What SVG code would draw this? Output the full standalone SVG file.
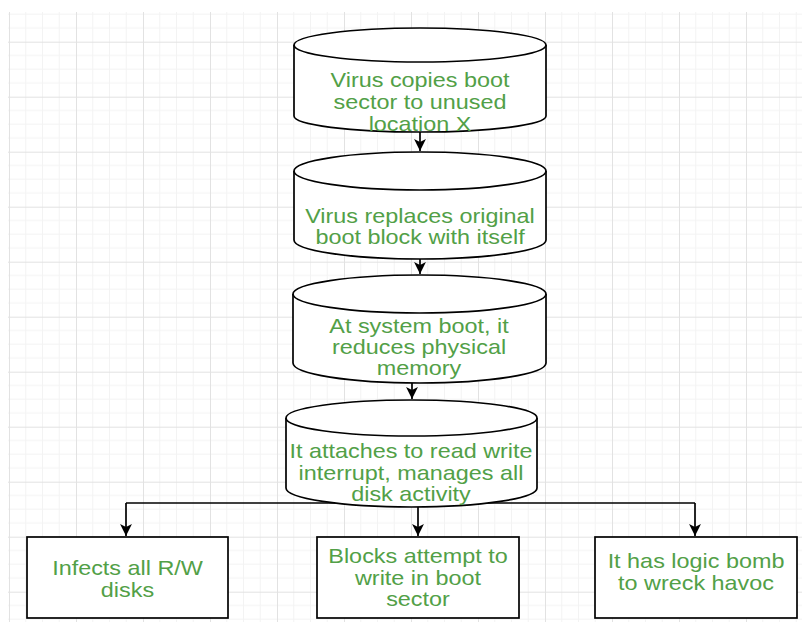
<svg xmlns="http://www.w3.org/2000/svg" width="802" height="622" viewBox="0 0 802 622">
<style>
.shape{fill:#fff;stroke:#000;stroke-width:1.7}
.edge{fill:none;stroke:#000;stroke-width:1.7}
.lbl{font-family:"Liberation Sans",Arial,sans-serif;font-size:20px;fill:#52a047;text-anchor:middle}
</style>
<defs>
<pattern id="grid" patternUnits="userSpaceOnUse" x="9" y="-13.3" width="67" height="55">
<path d="M16.75 0V55M33.5 0V55M50.25 0V55M0 13.75H67M0 27.5H67M0 41.25H67" stroke="#f3f3f3" stroke-width="1" fill="none"/>
<path d="M0.5 0V55M0 0.5H67" stroke="#e2e2e2" stroke-width="1" fill="none"/>
</pattern>
<marker id="arr" viewBox="0 0 10 10" refX="10" refY="5" markerWidth="7" markerHeight="7" markerUnits="strokeWidth" orient="auto">
<path d="M0 0L10 5L0 10L2.5 5Z" fill="#000"/>
</marker>
</defs>
<rect width="802" height="622" fill="#fff"/>
<rect x="8" y="12" width="794" height="610" fill="url(#grid)"/>

<g id="connectors">
<path class="edge" d="M420 132V151" marker-end="url(#arr)"/>
<path class="edge" d="M420 259V274" marker-end="url(#arr)"/>
<path class="edge" d="M412 383V399" marker-end="url(#arr)"/>
<path class="edge" d="M126 503H695"/>
<path class="edge" d="M126 503V536" marker-end="url(#arr)"/>
<path class="edge" d="M418 503V536" marker-end="url(#arr)"/>
<path class="edge" d="M695 503V536" marker-end="url(#arr)"/>
</g>

<g id="node1">
<path class="shape" d="M294 45A126 17 0 0 1 546 45V116A126 16 0 0 1 294 116Z"/>
<path class="shape" d="M294 45A126 17 0 0 0 546 45" fill="none"/>
<g transform="translate(420 0) scale(1.17 1)">
<text class="lbl" x="0" y="87">Virus copies boot</text>
<text class="lbl" x="0" y="109">sector to unused</text>
<text class="lbl" x="0" y="131">location X</text>
</g>
</g>

<g id="node2">
<path class="shape" d="M294 171A126 19 0 0 1 546 171V240A126 19 0 0 1 294 240Z"/>
<path class="shape" d="M294 171A126 19 0 0 0 546 171" fill="none"/>
<g transform="translate(420 0) scale(1.17 1)">
<text class="lbl" x="0" y="223">Virus replaces original</text>
<text class="lbl" x="0" y="244">boot block with itself</text>
</g>
</g>

<g id="node3">
<path class="shape" d="M293 294A126.5 19 0 0 1 546 294V363A126.5 20 0 0 1 293 363Z"/>
<path class="shape" d="M293 294A126.5 19 0 0 0 546 294" fill="none"/>
<g transform="translate(419 0) scale(1.17 1)">
<text class="lbl" x="0" y="333">At system boot, it</text>
<text class="lbl" x="0" y="354">reduces physical</text>
<text class="lbl" x="0" y="375">memory</text>
</g>
</g>

<g id="node4">
<path class="shape" d="M286 418A125.5 18 0 0 1 537 418V488A125.5 19 0 0 1 286 488Z"/>
<path class="shape" d="M286 418A125.5 18 0 0 0 537 418" fill="none"/>
<g transform="translate(411 0) scale(1.17 1)">
<text class="lbl" x="0" y="458">It attaches to read write</text>
<text class="lbl" x="0" y="480">interrupt, manages all</text>
<text class="lbl" x="0" y="501">disk activity</text>
</g>
</g>

<g id="node5">
<rect class="shape" x="27" y="537" width="201" height="81"/>
<g transform="translate(127.5 0) scale(1.17 1)">
<text class="lbl" x="0" y="575">Infects all R/W</text>
<text class="lbl" x="0" y="597">disks</text>
</g>
</g>

<g id="node6">
<rect class="shape" x="317" y="537" width="202" height="81"/>
<g transform="translate(418 0) scale(1.17 1)">
<text class="lbl" x="0" y="563">Blocks attempt to</text>
<text class="lbl" x="0" y="585">write in boot</text>
<text class="lbl" x="0" y="606">sector</text>
</g>
</g>

<g id="node7">
<rect class="shape" x="595" y="537" width="202" height="81"/>
<g transform="translate(696 0) scale(1.17 1)">
<text class="lbl" x="0" y="568">It has logic bomb</text>
<text class="lbl" x="0" y="590">to wreck havoc</text>
</g>
</g>
</svg>
